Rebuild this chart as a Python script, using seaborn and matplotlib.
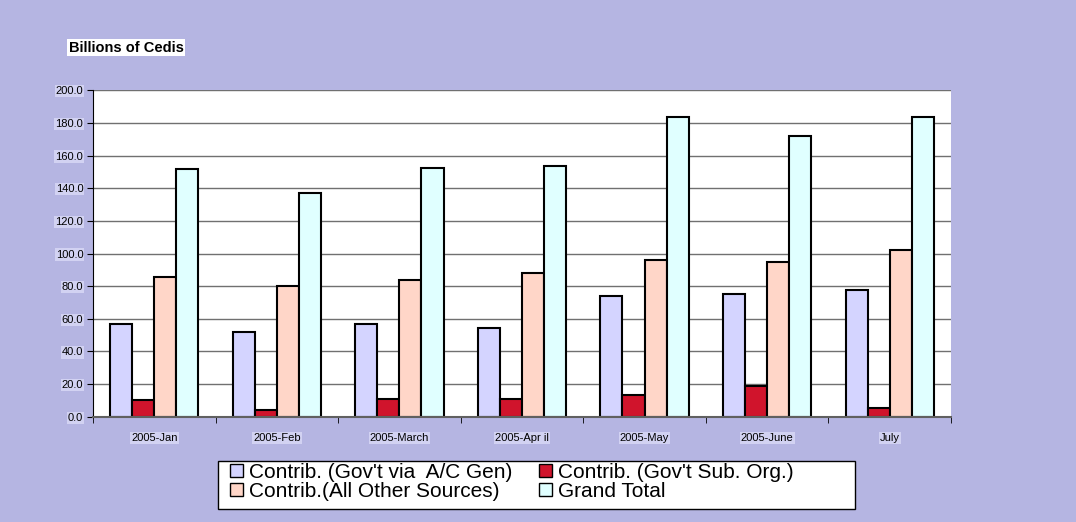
import matplotlib
matplotlib.use('agg')
import matplotlib.pyplot as plt
import seaborn as sns
import pandas as pd
from matplotlib.patches import Patch, Rectangle
from matplotlib.ticker import FixedLocator

months = ['2005-Jan', '2005-Feb', '2005-March', '2005-Apr il', '2005-May', '2005-June', 'July']
series = ["Contrib. (Gov't via  A/C Gen)", "Contrib. (Gov't Sub. Org.)",
          "Contrib.(All Other Sources)", "Grand Total"]
gov_ac_gen = [57.0, 52.0, 56.7, 54.4, 74.0, 75.1, 77.7]
gov_sub_org = [10.1, 4.0, 11.1, 11.1, 13.6, 18.7, 5.1]
other_sources = [85.5, 80.2, 83.9, 87.8, 96.0, 95.0, 102.2]
grand_total = [152.0, 137.1, 152.1, 153.4, 183.4, 172.3, 183.4]
colors = ['#D4D4FF', '#D0142C', '#FFD6C8', '#E0FFFF']

rows = []
for name, vals in zip(series, [gov_ac_gen, gov_sub_org, other_sources, grand_total]):
    for m, v in zip(months, vals):
        rows.append({'month': m, 'series': name, 'value': v})
df = pd.DataFrame(rows)

plt.rcParams['font.family'] = ['Liberation Sans', 'DejaVu Sans']

W, H = 1076, 522
bg = '#B5B5E2'
fig = plt.figure(figsize=(W / 100, H / 100), dpi=100, facecolor=bg)
ax = fig.add_axes([0.0864, 0.2017, 0.7974, 0.6253])
ax.set_facecolor('white')

sns.barplot(data=df, x='month', y='value', hue='series', hue_order=series,
            palette=colors, width=0.72, gap=0, edgecolor='black', linewidth=1.5,
            saturation=1, ax=ax, legend=False)

ax.set_ylim(0, 200)
ax.set_xlim(-0.5, len(months) - 0.5)
ax.set_yticks(range(0, 201, 20))
ax.set_yticklabels(['%.1f' % v for v in range(0, 201, 20)], fontsize=8)
ax.yaxis.grid(True, color='#707070', linewidth=1)
ax.set_axisbelow(True)
ax.set_xlabel('')
ax.set_ylabel('')

ax.tick_params(axis='x', which='major', length=0, labelsize=8, pad=12)
ax.xaxis.set_minor_locator(FixedLocator([i - 0.5 for i in range(len(months) + 1)]))
ax.tick_params(axis='x', which='minor', length=4, direction='out', color='black')
ax.tick_params(axis='y', length=4, direction='out', color='black', pad=3)
for lbl in ax.get_xticklabels() + ax.get_yticklabels():
    lbl.set_bbox(dict(facecolor='#D2D2F2', edgecolor='none', pad=0.8))

for side in ['top', 'right']:
    ax.spines[side].set_visible(False)
ax.spines['left'].set_color('black')
ax.spines['bottom'].set_color('#606060')
ax.spines['bottom'].set_linewidth(1.5)

fig.text(0.064, 0.909, 'Billions of Cedis', fontsize=10.5, fontweight='bold',
         ha='left', va='center',
         bbox=dict(facecolor='white', edgecolor='none', pad=1.0))

# legend frame drawn separately so the padding can match the original
fig.patches.append(Rectangle((218 / W, 1 - 508.7 / H), (855 - 218) / W, 48 / H,
                             transform=fig.transFigure, facecolor='white',
                             edgecolor='black', linewidth=1, zorder=1))

# legend fills row by row: reorder for matplotlib's column-major layout
order = [0, 2, 1, 3]
handles = [Patch(facecolor=colors[i], edgecolor='black', linewidth=1) for i in order]
labels = [series[i] for i in order]
leg = fig.legend(handles, labels, loc='upper left',
                 bbox_to_anchor=(230 / W, 1 - 463 / H),
                 ncol=2, fontsize=15, frameon=False,
                 handlelength=0.6, handleheight=0.6, handletextpad=0.3,
                 columnspacing=1.3, labelspacing=0.0, borderpad=0,
                 borderaxespad=0)
leg.set_zorder(2)

fig.savefig('out.png', dpi=100, facecolor=bg)
